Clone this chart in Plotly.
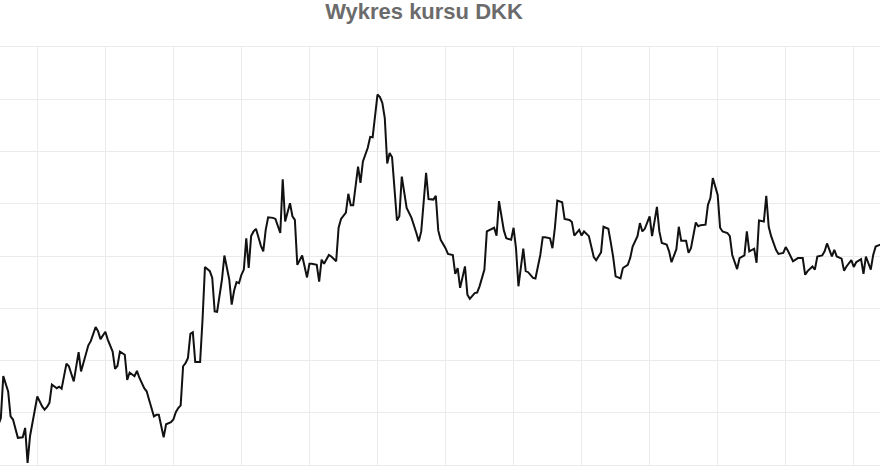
import plotly.graph_objects as go

# kurs DKK (PLN za 1 DKK), notowania
dates = [
    "2022-12-16", "2022-12-18", "2022-12-19", "2022-12-21", "2022-12-22", "2022-12-23",
    "2022-12-25", "2022-12-27", "2022-12-28", "2022-12-29", "2022-12-30",
    "2023-01-01", "2023-01-02", "2023-01-04", "2023-01-05", "2023-01-06", "2023-01-07",
    "2023-01-08", "2023-01-09", "2023-01-10", "2023-01-11", "2023-01-12", "2023-01-14",
    "2023-01-15", "2023-01-17", "2023-01-18", "2023-01-19", "2023-01-20", "2023-01-22",
    "2023-01-23", "2023-01-24", "2023-01-25", "2023-01-26", "2023-01-27", "2023-01-28",
    "2023-01-30", "2023-01-31",
    "2023-02-02", "2023-02-03", "2023-02-04", "2023-02-05", "2023-02-07", "2023-02-08",
    "2023-02-09", "2023-02-11", "2023-02-12", "2023-02-13", "2023-02-15", "2023-02-16",
    "2023-02-17", "2023-02-19", "2023-02-20", "2023-02-21", "2023-02-23", "2023-02-24",
    "2023-02-26", "2023-02-27", "2023-02-28",
    "2023-03-01", "2023-03-02", "2023-03-03", "2023-03-04", "2023-03-05", "2023-03-06",
    "2023-03-07", "2023-03-08", "2023-03-10", "2023-03-11", "2023-03-12", "2023-03-14",
    "2023-03-15", "2023-03-16", "2023-03-17", "2023-03-19", "2023-03-20", "2023-03-22",
    "2023-03-23", "2023-03-24", "2023-03-25", "2023-03-26", "2023-03-27", "2023-03-28",
    "2023-03-29", "2023-03-30", "2023-03-31",
    "2023-04-01", "2023-04-02", "2023-04-04", "2023-04-05", "2023-04-06", "2023-04-07",
    "2023-04-09", "2023-04-10", "2023-04-12", "2023-04-13", "2023-04-14", "2023-04-16",
    "2023-04-17", "2023-04-18", "2023-04-19", "2023-04-21", "2023-04-23", "2023-04-24",
    "2023-04-25", "2023-04-27", "2023-04-28", "2023-04-29", "2023-04-30",
    "2023-05-02", "2023-05-03", "2023-05-05", "2023-05-06", "2023-05-07", "2023-05-09",
    "2023-05-10", "2023-05-11", "2023-05-12", "2023-05-14", "2023-05-15", "2023-05-16",
    "2023-05-18", "2023-05-19", "2023-05-20", "2023-05-22", "2023-05-23", "2023-05-24",
    "2023-05-25", "2023-05-26", "2023-05-27", "2023-05-28", "2023-05-29", "2023-05-30",
    "2023-05-31",
    "2023-06-01", "2023-06-03", "2023-06-04", "2023-06-05", "2023-06-07", "2023-06-08",
    "2023-06-09", "2023-06-11", "2023-06-12", "2023-06-14", "2023-06-15", "2023-06-16",
    "2023-06-17", "2023-06-19", "2023-06-20", "2023-06-22", "2023-06-23", "2023-06-24",
    "2023-06-25", "2023-06-27", "2023-06-28", "2023-06-29",
    "2023-07-01", "2023-07-02", "2023-07-03", "2023-07-05", "2023-07-06", "2023-07-07",
    "2023-07-09", "2023-07-10", "2023-07-11", "2023-07-13", "2023-07-14", "2023-07-16",
    "2023-07-17", "2023-07-18", "2023-07-19", "2023-07-21", "2023-07-22", "2023-07-23",
    "2023-07-25", "2023-07-26", "2023-07-28", "2023-07-29", "2023-07-30",
    "2023-08-01", "2023-08-02", "2023-08-03", "2023-08-04", "2023-08-06", "2023-08-07",
    "2023-08-09", "2023-08-10", "2023-08-11", "2023-08-13", "2023-08-14", "2023-08-15",
    "2023-08-17", "2023-08-19", "2023-08-20", "2023-08-22", "2023-08-23", "2023-08-25",
    "2023-08-26", "2023-08-27", "2023-08-28", "2023-08-30", "2023-08-31",
    "2023-09-02", "2023-09-03", "2023-09-04", "2023-09-06", "2023-09-07", "2023-09-08",
    "2023-09-09", "2023-09-11", "2023-09-12", "2023-09-14", "2023-09-15", "2023-09-16",
    "2023-09-18", "2023-09-19", "2023-09-20", "2023-09-22", "2023-09-23", "2023-09-24",
    "2023-09-26", "2023-09-27", "2023-09-28", "2023-09-30",
    "2023-10-01", "2023-10-02", "2023-10-04", "2023-10-05", "2023-10-06", "2023-10-07",
    "2023-10-09", "2023-10-10", "2023-10-11", "2023-10-13", "2023-10-14", "2023-10-15",
    "2023-10-17", "2023-10-18", "2023-10-20", "2023-10-21", "2023-10-22", "2023-10-24",
    "2023-10-25", "2023-10-26", "2023-10-28", "2023-10-29", "2023-10-30", "2023-10-31",
    "2023-11-02", "2023-11-03", "2023-11-05", "2023-11-06", "2023-11-07", "2023-11-09",
    "2023-11-10", "2023-11-11", "2023-11-13", "2023-11-14", "2023-11-15", "2023-11-17",
    "2023-11-18", "2023-11-19", "2023-11-21", "2023-11-22", "2023-11-23", "2023-11-25",
    "2023-11-26", "2023-11-27", "2023-11-29", "2023-11-30",
    "2023-12-01", "2023-12-03", "2023-12-04", "2023-12-05", "2023-12-07", "2023-12-08",
    "2023-12-09", "2023-12-11", "2023-12-12", "2023-12-13", "2023-12-15", "2023-12-17",
]

rates = [
    0.5664, 0.5690, 0.5770, 0.5741, 0.5693, 0.5687,
    0.5652, 0.5653, 0.5671, 0.5604, 0.5655,
    0.5709, 0.5731, 0.5712, 0.5706, 0.5711, 0.5719,
    0.5754, 0.5750, 0.5747, 0.5750, 0.5746, 0.5794,
    0.5789, 0.5760, 0.5789, 0.5816, 0.5779, 0.5811,
    0.5829, 0.5837, 0.5849, 0.5864, 0.5856, 0.5841,
    0.5855, 0.5840,
    0.5817, 0.5784, 0.5790, 0.5817, 0.5811, 0.5763,
    0.5777, 0.5770, 0.5780, 0.5767, 0.5747, 0.5741,
    0.5725, 0.5693, 0.5696, 0.5696, 0.5653, 0.5678,
    0.5682, 0.5687, 0.5701,
    0.5709, 0.5714, 0.5789, 0.5795, 0.5805, 0.5851,
    0.5854, 0.5797, 0.5797, 0.5878, 0.5979, 0.5971,
    0.5958, 0.5894, 0.5893, 0.5955, 0.6001, 0.5955,
    0.5907, 0.5934, 0.5950, 0.5948, 0.5964, 0.5974,
    0.6034, 0.5977, 0.6038,
    0.6047, 0.6052, 0.6020, 0.6009, 0.6050, 0.6074,
    0.6073, 0.6071, 0.6044, 0.6147, 0.6066, 0.6101,
    0.6076, 0.6069, 0.5983, 0.6001, 0.5959, 0.5985,
    0.5985, 0.5983, 0.5951, 0.5993, 0.5985,
    0.6002, 0.5999, 0.5990, 0.6054, 0.6071, 0.6083,
    0.6119, 0.6097, 0.6097, 0.6171, 0.6140, 0.6181,
    0.6207, 0.6228, 0.6227, 0.6309, 0.6304, 0.6293,
    0.6264, 0.6177, 0.6197, 0.6189, 0.6121, 0.6068,
    0.6076,
    0.6152, 0.6092, 0.6082, 0.6073, 0.6044, 0.6028,
    0.6047, 0.6159, 0.6109, 0.6108, 0.6115, 0.6049,
    0.6031, 0.6015, 0.6004, 0.6002, 0.5966, 0.5977,
    0.5939, 0.5980, 0.5926, 0.5918,
    0.5929, 0.5930, 0.5942, 0.5974, 0.6047, 0.6049,
    0.6054, 0.6039, 0.6105, 0.6049, 0.6034, 0.6031,
    0.6054, 0.6015, 0.5942, 0.6014, 0.5971, 0.5969,
    0.5958, 0.5957, 0.6002, 0.6036, 0.6036,
    0.6034, 0.6015, 0.6054, 0.6106, 0.6103, 0.6071,
    0.6069, 0.6065, 0.6039, 0.6050, 0.6039, 0.6047,
    0.6038, 0.5998, 0.5992, 0.6007, 0.6056, 0.6052,
    0.6026, 0.5998, 0.5961, 0.5957, 0.5977,
    0.5983, 0.5996, 0.6018, 0.6038, 0.6063, 0.6047,
    0.6052, 0.6076, 0.6038, 0.6094, 0.6047, 0.6025,
    0.6022, 0.6009, 0.5988, 0.6013, 0.6056, 0.6029,
    0.6029, 0.6006, 0.6015, 0.6064,
    0.6057, 0.6059, 0.6060, 0.6098, 0.6111, 0.6149,
    0.6117, 0.6054, 0.6047, 0.6044, 0.6038, 0.6002,
    0.5975, 0.5996, 0.6001, 0.6047, 0.6009, 0.6014,
    0.5987, 0.6068, 0.6066, 0.6115, 0.6056, 0.6038,
    0.6012, 0.6004, 0.6006, 0.6017, 0.6009, 0.5990,
    0.5993, 0.5996, 0.5996, 0.5964, 0.5971, 0.5980,
    0.5974, 0.5999, 0.6001, 0.6009, 0.6024, 0.5999,
    0.6012, 0.5999, 0.5995, 0.5972,
    0.5980, 0.5992, 0.5979, 0.5988, 0.5994, 0.5966,
    0.5999, 0.5974, 0.6002, 0.6018, 0.6022, 0.6024,
]

x_range = ["2022-12-17 15:36", "2023-12-14 19:12"]
y_range = [0.56, 0.64]
tick_start = "2023-01-02"
tick_step_days = 28

grid = "#ebebeb"

fig = go.Figure(
    go.Scatter(
        x=dates, y=rates,
        mode="lines",
        line=dict(color="#111111", width=2),
        hoverinfo="x+y",
    )
)

fig.update_layout(
    width=880, height=473,
    margin=dict(l=0, r=0, t=47, b=8),
    paper_bgcolor="white",
    plot_bgcolor="white",
    showlegend=False,
    title=dict(
        text="Wykres kursu DKK",
        x=424 / 880, xanchor="center",
        y=0.977, yanchor="middle",
        font=dict(family="Liberation Sans, Arial", size=22, color="#6b6b6b", weight="bold"),
    ),
    font=dict(family="Liberation Sans, Arial", size=12, color="#666666"),
)

fig.update_xaxes(
    type="date",
    range=x_range,
    tick0=tick_start,
    dtick=tick_step_days * 86400000,
    tickformat="%Y-%m-%d",
    tickangle=-45,
    showgrid=True, gridcolor=grid, gridwidth=1,
    showline=True, linecolor=grid, mirror=True,
    zeroline=False,
    automargin=False,
)
fig.update_yaxes(
    range=y_range,
    dtick=0.01,
    showgrid=True, gridcolor=grid, gridwidth=1,
    showticklabels=False,
    zeroline=False,
    automargin=False,
)

# no default body margin, so the figure sits in the window corner
fig.write_html(
    "out.html",
    config={"displayModeBar": False},
    post_script="document.body.style.margin='0';document.body.style.overflow='hidden';",
)
